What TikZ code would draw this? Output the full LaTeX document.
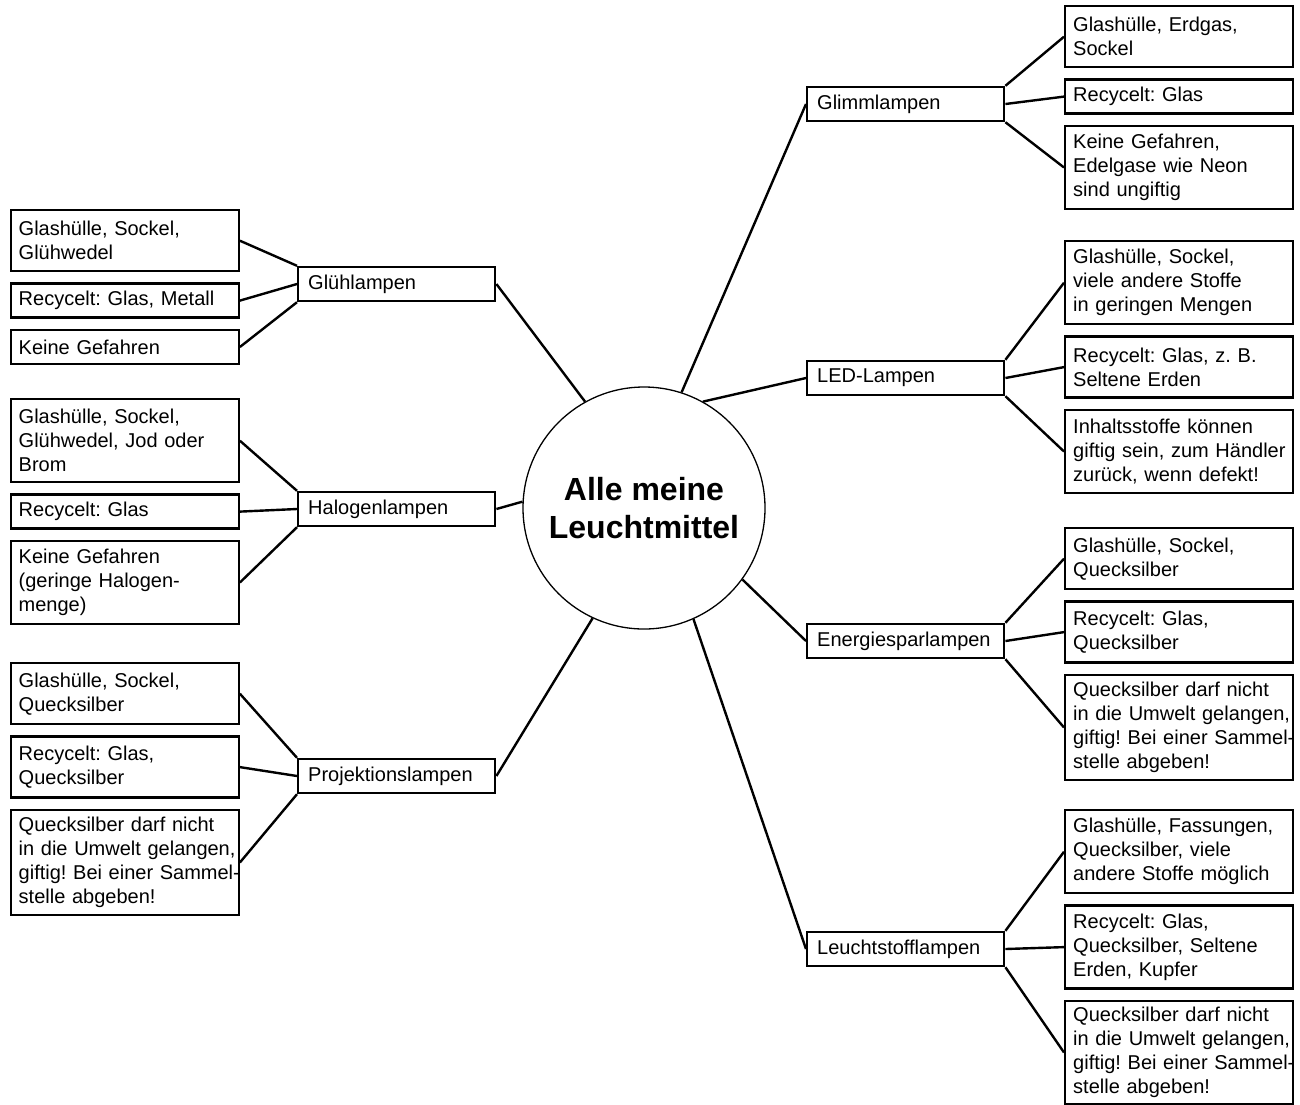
\documentclass[tikz,border=0pt]{standalone}
\usepackage{fontspec}
\setmainfont{Liberation Sans}
\frenchspacing
\usetikzlibrary{positioning}
\tikzstyle{leafbox} =[draw, line width=2.4pt, align=left, inner xsep=8pt, inner ysep=0pt, text width=212pt, font=\fontsize{20}{24}\selectfont]
\tikzstyle{lampbox} =[draw, line width=2.4pt, align=left, inner xsep=10pt, inner ysep=0pt, text width=177pt, minimum height=34pt, anchor=west, font=\fontsize{20}{24}\selectfont]
\tikzstyle{link} =[line width=2.4pt, black]

\begin{document}
\begin{tikzpicture}[x=1pt, y=-1pt]
\useasboundingbox (0,0) rectangle (1300,1104);

\node (core) [circle, draw, line width=1.3pt, minimum size=242pt, align=center, font=\bfseries\fontsize{32}{38}\selectfont] at (644,508) {Alle meine\\Leuchtmittel};

% left side
\node (gluehLamp) [lampbox] at (297,284) {Glühlampen};
\node (gluehMat) [leafbox, anchor=north west, minimum height=61pt] at (9.5,209) {Glashülle, Sockel,\\Glühwedel};
\node (gluehRec) [leafbox, minimum height=34pt, below=10pt of gluehMat] {Recycelt: Glas, Metall};
\node (gluehRisk) [leafbox, minimum height=34pt, below=10pt of gluehRec] {Keine Gefahren};

\node (halogenLamp) [lampbox] at (297,509) {Halogenlampen};
\node (halogenMat) [leafbox, anchor=north west, minimum height=83pt] at (9.5,398) {Glashülle, Sockel,\\Glühwedel, Jod oder\\Brom};
\node (halogenRec) [leafbox, minimum height=34pt, below=10pt of halogenMat] {Recycelt: Glas};
\node (halogenRisk) [leafbox, minimum height=83pt, below=10pt of halogenRec] {Keine Gefahren\\(geringe Halogen-\\menge)};

\node (projektionLamp) [lampbox] at (297,776) {Projektionslampen};
\node (projektionMat) [leafbox, anchor=north west, minimum height=61pt] at (9.5,662) {Glashülle, Sockel,\\Quecksilber};
\node (projektionRec) [leafbox, minimum height=61pt, below=10pt of projektionMat] {Recycelt: Glas,\\Quecksilber};
\node (projektionRisk) [leafbox, minimum height=105pt, below=10pt of projektionRec] {Quecksilber darf nicht\\\mbox{in die Umwelt gelangen,}\\\mbox{giftig! Bei einer Sammel-}\\stelle abgeben!};

% right side
\node (glimmLamp) [lampbox] at (806,104) {Glimmlampen};
\node (glimmMat) [leafbox, anchor=north west, minimum height=61pt] at (1064,5) {Glashülle, Erdgas,\\Sockel};
\node (glimmRec) [leafbox, minimum height=34pt, below=10pt of glimmMat] {Recycelt: Glas};
\node (glimmRisk) [leafbox, minimum height=83pt, below=10pt of glimmRec] {Keine Gefahren,\\Edelgase wie Neon\\sind ungiftig};

\node (ledLamp) [lampbox] at (806,378) {LED-Lampen};
\node (ledMat) [leafbox, anchor=north west, minimum height=83pt] at (1064,240) {Glashülle, Sockel,\\viele andere Stoffe\\in geringen Mengen};
\node (ledRec) [leafbox, minimum height=61pt, below=10pt of ledMat] {Recycelt: Glas, z. B.\\Seltene Erden};
\node (ledRisk) [leafbox, minimum height=83pt, below=10pt of ledRec] {Inhaltsstoffe können\\\mbox{giftig sein, zum Händler}\\zurück, wenn defekt!};

\node (energieLamp) [lampbox] at (806,641) {Energiesparlampen};
\node (energieMat) [leafbox, anchor=north west, minimum height=61pt] at (1064,527) {Glashülle, Sockel,\\Quecksilber};
\node (energieRec) [leafbox, minimum height=61pt, below=10pt of energieMat] {Recycelt: Glas,\\Quecksilber};
\node (energieRisk) [leafbox, minimum height=105pt, below=10pt of energieRec] {Quecksilber darf nicht\\\mbox{in die Umwelt gelangen,}\\\mbox{giftig! Bei einer Sammel-}\\stelle abgeben!};

\node (leuchtLamp) [lampbox] at (806,949) {Leuchtstofflampen};
\node (leuchtMat) [leafbox, anchor=north west, minimum height=83pt] at (1064,809) {Glashülle, Fassungen,\\Quecksilber, viele\\andere Stoffe möglich};
\node (leuchtRec) [leafbox, minimum height=83pt, below=10pt of leuchtMat] {Recycelt: Glas,\\Quecksilber, Seltene\\Erden, Kupfer};
\node (leuchtRisk) [leafbox, minimum height=103pt, below=10pt of leuchtRec] {Quecksilber darf nicht\\\mbox{in die Umwelt gelangen,}\\\mbox{giftig! Bei einer Sammel-}\\stelle abgeben!};

% connectors
\foreach \grp/\ang in {glueh/119, halogen/177, projektion/245} {
	\draw[link] (\grp Mat.east) -- (\grp Lamp.north west);
	\draw[link] (\grp Rec.east) -- (\grp Lamp.west);
	\draw[link] (\grp Risk.east) -- (\grp Lamp.south west);
	\draw[link] (\grp Lamp.east) -- (core.\ang);
}
\foreach \grp/\ang in {glimm/72, led/61, energie/-36, leucht/294} {
	\draw[link] (\grp Mat.west) -- (\grp Lamp.north east);
	\draw[link] (\grp Rec.west) -- (\grp Lamp.east);
	\draw[link] (\grp Risk.west) -- (\grp Lamp.south east);
	\draw[link] (\grp Lamp.west) -- (core.\ang);
}

\end{tikzpicture}
\end{document}
